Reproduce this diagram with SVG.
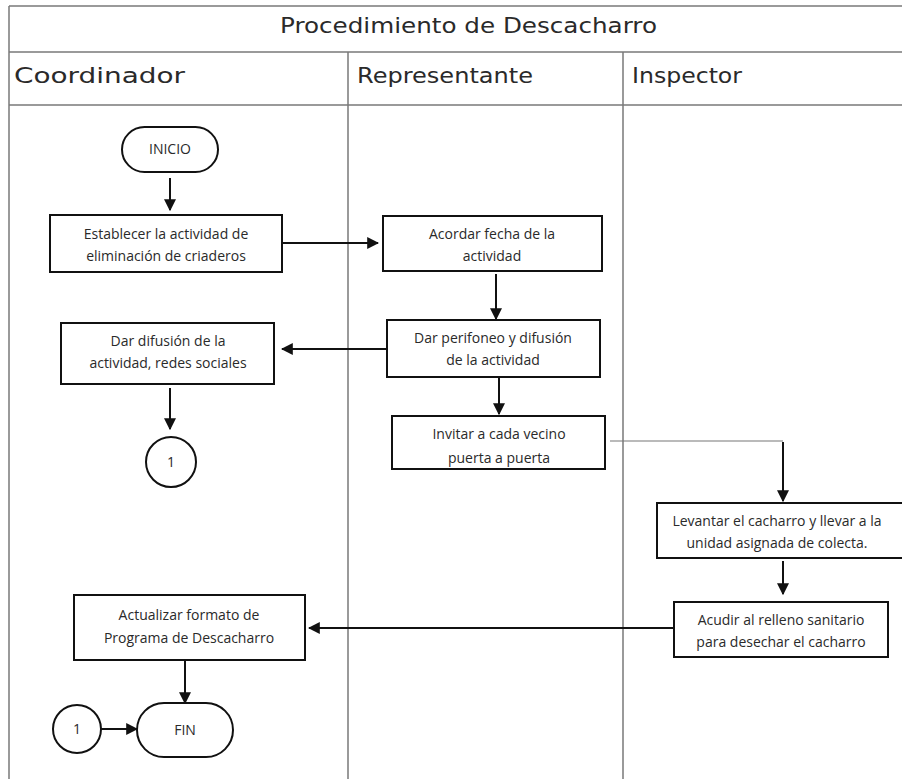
<svg xmlns="http://www.w3.org/2000/svg" width="902" height="779" viewBox="0 0 902 779">
<style>
.frame{stroke:#7a7a7a;stroke-width:1.5;fill:none}
.box{fill:#fff;stroke:#111;stroke-width:2}
.hd{font-family:"DejaVu Sans","Liberation Sans",sans-serif;font-size:22px;fill:#2a2a2a}
.t{font-family:"Open Sans","Liberation Sans",sans-serif;font-size:14px;fill:#2a2a2a;text-anchor:middle}
.c{stroke:#111;stroke-width:2;fill:none}
.thin{stroke:#777;stroke-width:1.2;fill:none}
</style>
<defs>
<marker id="ah2" viewBox="0 0 10 10" refX="9" refY="5" markerWidth="12" markerHeight="12" markerUnits="userSpaceOnUse" orient="auto">
<path d="M0,0 L10,5 L0,10 z" fill="#111"/>
</marker>
</defs>
<rect width="902" height="779" fill="#fff"/>
<g id="lanes">
<path class="frame" d="M9,6 H902 M9,52 H902 M9,105 H902 M9,6 V779 M348,52 V779 M623,52 V779"/>
<text class="hd" x="280" y="33" textLength="377" lengthAdjust="spacingAndGlyphs">Procedimiento de Descacharro</text>
<text class="hd" x="14" y="83" textLength="171" lengthAdjust="spacingAndGlyphs">Coordinador</text>
<text class="hd" x="357" y="83" textLength="176" lengthAdjust="spacingAndGlyphs">Representante</text>
<text class="hd" x="632" y="83" textLength="110" lengthAdjust="spacingAndGlyphs">Inspector</text>
</g>
<g id="connectors">
<line class="c" x1="170" y1="178" x2="170" y2="210" marker-end="url(#ah2)"/>
<line class="c" x1="282" y1="243" x2="378" y2="243" marker-end="url(#ah2)"/>
<line class="c" x1="496" y1="274" x2="496" y2="319" marker-end="url(#ah2)"/>
<line class="c" x1="387" y1="349" x2="282" y2="349" marker-end="url(#ah2)"/>
<line class="c" x1="170" y1="388" x2="170" y2="429" marker-end="url(#ah2)"/>
<line class="c" x1="499" y1="377" x2="499" y2="414" marker-end="url(#ah2)"/>
<path class="thin" d="M610,441 H783"/>
<line class="c" x1="783" y1="442" x2="783" y2="501" marker-end="url(#ah2)"/>
<line class="c" x1="783" y1="561" x2="783" y2="594" marker-end="url(#ah2)"/>
<line class="c" x1="674" y1="628" x2="309" y2="628" marker-end="url(#ah2)"/>
<line class="c" x1="185" y1="660" x2="185" y2="703" marker-end="url(#ah2)"/>
<line class="c" x1="101" y1="729" x2="137" y2="729" marker-end="url(#ah2)"/>
</g>
<g id="inicio">
<rect class="box" x="122" y="127" width="96" height="45" rx="22.5"/>
<text class="t" x="170" y="154">INICIO</text>
</g>
<g id="establecer">
<rect class="box" x="50" y="215" width="232" height="57"/>
<text class="t" x="166" y="239">Establecer la actividad de</text>
<text class="t" x="166" y="261">eliminación de criaderos</text>
</g>
<g id="acordar">
<rect class="box" x="383" y="216" width="219" height="55"/>
<text class="t" x="492" y="239">Acordar fecha de la</text>
<text class="t" x="492" y="261">actividad</text>
</g>
<g id="perifoneo">
<rect class="box" x="387" y="320" width="213" height="57"/>
<text class="t" x="493" y="343">Dar perifoneo y difusión</text>
<text class="t" x="493" y="365">de la actividad</text>
</g>
<g id="difusion">
<rect class="box" x="61" y="323" width="213" height="61"/>
<text class="t" x="168" y="346">Dar difusión de la</text>
<text class="t" x="168" y="368">actividad, redes sociales</text>
</g>
<g id="conector1a">
<circle class="box" cx="171" cy="462" r="25" stroke-width="1.5"/>
<text class="t" x="171" y="467">1</text>
</g>
<g id="invitar">
<rect class="box" x="392" y="416" width="213" height="53"/>
<text class="t" x="499" y="439">Invitar a cada vecino</text>
<text class="t" x="499" y="463">puerta a puerta</text>
</g>
<g id="levantar">
<rect class="box" x="657" y="503" width="250" height="55"/>
<text class="t" x="777" y="526">Levantar el cacharro y llevar a la</text>
<text class="t" x="777" y="548">unidad asignada de colecta.</text>
</g>
<g id="acudir">
<rect class="box" x="674" y="602" width="214" height="55"/>
<text class="t" x="781" y="625">Acudir al relleno sanitario</text>
<text class="t" x="781" y="647">para desechar el cacharro</text>
</g>
<g id="actualizar">
<rect class="box" x="74" y="595" width="231" height="65"/>
<text class="t" x="189" y="620">Actualizar formato de</text>
<text class="t" x="189" y="643">Programa de Descacharro</text>
</g>
<g id="conector1b">
<circle class="box" cx="77" cy="729" r="24" stroke-width="1.5"/>
<text class="t" x="77" y="734">1</text>
</g>
<g id="fin">
<rect class="box" x="137" y="703" width="96" height="54" rx="27"/>
<text class="t" x="185" y="735">FIN</text>
</g>
</svg>
